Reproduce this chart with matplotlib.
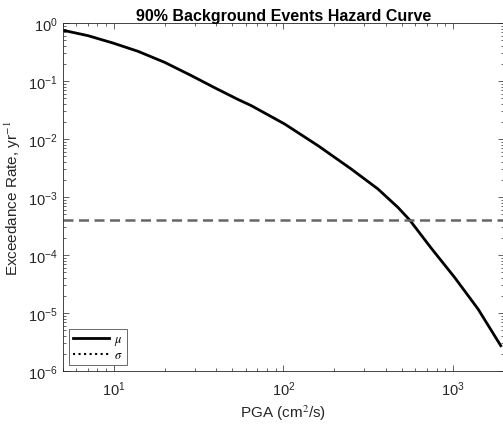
import matplotlib
matplotlib.use("Agg")
import matplotlib.pyplot as plt
from matplotlib.ticker import LogLocator, NullFormatter

plt.rcParams['font.family'] = ['Liberation Sans', 'DejaVu Sans']
plt.rcParams['mathtext.fontset'] = 'stix'

# Hazard curve (mean)
pga = [5.0, 7.03, 9.86, 13.87, 19.9, 28.6, 39.3, 54.0, 64.6, 101.6, 160,
       251, 361, 474, 556, 746, 1023, 1406, 1914]
rate = [0.75, 0.605, 0.452, 0.325, 0.21, 0.124, 0.0765, 0.048, 0.0376,
        0.01815, 0.00767, 0.00304, 0.001374, 6.6e-4, 4.0e-4, 1.3e-4,
        4.1e-5, 1.17e-5, 2.73e-6]
threshold = 4.0e-4
xlim = (5, 2000)
ylim = (1e-6, 1)
title = "90% Background Events Hazard Curve"
xlabel = r"PGA (cm$^2$/s)"
ylabel = r"Exceedance Rate, yr$^{-1}$"

fig = plt.figure(figsize=(5.03, 4.27), dpi=100)
ax = fig.add_axes([0.125, 0.1288, 0.877, 0.815])

ax.plot(pga, rate, color='black', lw=2, label=r'$\mu$')
ax.plot([], [], color='black', lw=1.5, ls=':', label=r'$\sigma$')
ax.axhline(threshold, color='#666666', lw=1.8, ls=(0, (4, 2.2)))

ax.set_xscale('log')
ax.set_yscale('log')
ax.set_xlim(*xlim)
ax.set_ylim(*ylim)
ax.xaxis.set_major_locator(LogLocator(base=10, numticks=10))
ax.yaxis.set_major_locator(LogLocator(base=10, numticks=10))
ax.xaxis.set_minor_locator(LogLocator(base=10, subs=range(2, 10), numticks=20))
ax.yaxis.set_minor_locator(LogLocator(base=10, subs=range(2, 10), numticks=20))
ax.xaxis.set_minor_formatter(NullFormatter())
ax.yaxis.set_minor_formatter(NullFormatter())

for s in ax.spines.values():
    s.set_color('#262626')
    s.set_linewidth(0.6)
ax.tick_params(which='both', direction='in', top=True, right=True,
               colors='#262626', labelsize=10.5, width=0.5)
ax.tick_params(which='major', length=4)
ax.tick_params(which='minor', length=2)
ax.tick_params(axis='x', pad=6)

ax.set_title(title, fontsize=11.5, fontweight='bold', pad=1)
ax.set_xlabel(xlabel, fontsize=11, color='#262626', labelpad=3)
ax.set_ylabel(ylabel, fontsize=11, color='#262626')

leg = ax.legend(loc='lower left', fontsize=9, frameon=True, fancybox=False,
                edgecolor='#262626', handlelength=2.9, borderaxespad=0.5,
                labelspacing=0.15, handletextpad=0.4, borderpad=0.3)
leg.get_frame().set_linewidth(0.6)

fig.savefig('out.png', dpi=100)
